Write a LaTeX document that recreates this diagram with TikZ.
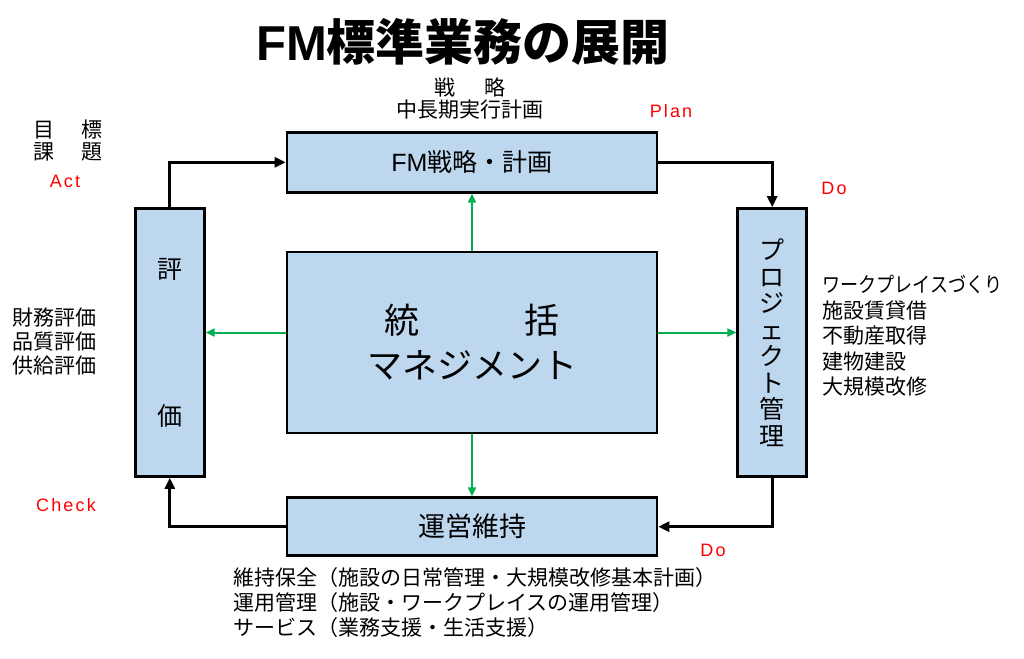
\documentclass[tikz,border=0pt]{standalone}
\usepackage{fontspec}
\usepackage{graphicx}
\setmainfont{Noto Sans CJK JP}
\newfontfamily\latin{Liberation Sans}[LetterSpace=12]
\usetikzlibrary{positioning, arrows.meta}
\definecolor{boxblue}{HTML}{BDD7EE}
\definecolor{linkgreen}{HTML}{00B050}
\definecolor{pdcared}{HTML}{FF0000}

\begin{document}
\begin{tikzpicture}[
  x=1pt, y=-1pt,
  >={Triangle[length=11pt,width=10pt]},
  panel/.style={
    rectangle, draw=black, line width=2.7pt, fill=boxblue,
    minimum width=370pt, inner sep=0pt, align=center,
    font=\fontsize{25}{30}\selectfont
  },
  column/.style={
    rectangle, draw=black, line width=2.7pt, fill=boxblue,
    minimum width=69pt, minimum height=268pt, inner sep=0pt, align=center
  },
  flow/.style={->, line width=2.7pt},
  link/.style={-{Triangle[length=9pt,width=8pt]}, line width=2pt, draw=linkgreen},
  note/.style={align=left, inner sep=0pt, font=\fontsize{21}{25}\selectfont},
  pdca/.style={text=pdcared, inner sep=0pt, font=\latin\fontsize{18}{20}\selectfont},
]
\useasboundingbox (0,0) rectangle (1024,658);

% Title
\node[font=\bfseries\fontsize{49}{52}\selectfont] (title) at (463,42)
  {{\latin\addfontfeature{LetterSpace=0}FM}標準業務の展開};

% Centre box
\node[panel, minimum height=181pt, font=\fontsize{35}{45}\selectfont] (hub) at (472,342.5)
  {統　　　括\\マネジメント};

% Plan / Do / Check boxes
\node[panel, minimum height=60pt, above=57pt of hub] (strategy)
  {{\latin\addfontfeature{LetterSpace=0}FM}戦略・計画};
\node[panel, minimum height=58pt, below=62pt of hub, font=\fontsize{27}{30}\selectfont] (ops) {運営維持};
\node[column, left=80pt of hub, font=\fontsize{25}{147}\selectfont] (review) {評\\価};
\node[column, right=78pt of hub, font=\fontsize{25}{26.5}\selectfont] (project)
  {プ\\ロ\\ジ\\ェ\\ク\\ト\\管\\理};

% Cycle
\draw[flow] (review.north) |- (strategy.west);
\draw[flow] (strategy.east) -| (project.north);
\draw[flow] (project.south) |- (ops.east);
\draw[flow] (ops.west) -| (review.south);

% From the centre
\draw[link] (hub.north) -- (strategy.south);
\draw[link] (hub.south) -- (ops.north);
\draw[link] ([yshift=10pt]hub.west) -- ([yshift=10pt]hub.west -| review.east);
\draw[link] ([yshift=10pt]hub.east) -- ([yshift=10pt]hub.east -| project.west);

% Notes
\node[note, align=center, font=\fontsize{21}{22}\selectfont] (plannote) at (470,99)
  {戦\hspace{30pt}略\\中長期実行計画};
\node[note, align=center, font=\fontsize{21}{22}\selectfont] (actnote) at (68,141)
  {目\hspace{28pt}標\\課\hspace{28pt}題};
\node[note, anchor=west, font=\fontsize{21}{24}\selectfont] (checknote) at (12,342)
  {財務評価\\品質評価\\供給評価};
\node[note, anchor=west, font=\fontsize{21}{25.5}\selectfont] (donote) at (822,336)
  {\scalebox{0.86}[1]{ワークプレイスづくり}\\施設賃貸借\\不動産取得\\建物建設\\大規模改修};
\node[note, anchor=west] (opsnote) at (233,603)
  {維持保全（施設の日常管理・大規模改修基本計画）\\
   運用管理（施設・ワークプレイスの運用管理）\\
   サービス（業務支援・生活支援）};

% PDCA labels
\node[pdca] (plan) at (671,111) {Plan};
\node[pdca] (act) at (65,181) {Act};
\node[pdca] (do) at (834,188) {Do};
\node[pdca] (check) at (66,505) {Check};
\node[pdca] (doops) at (713,550) {Do};

\end{tikzpicture}
\end{document}
